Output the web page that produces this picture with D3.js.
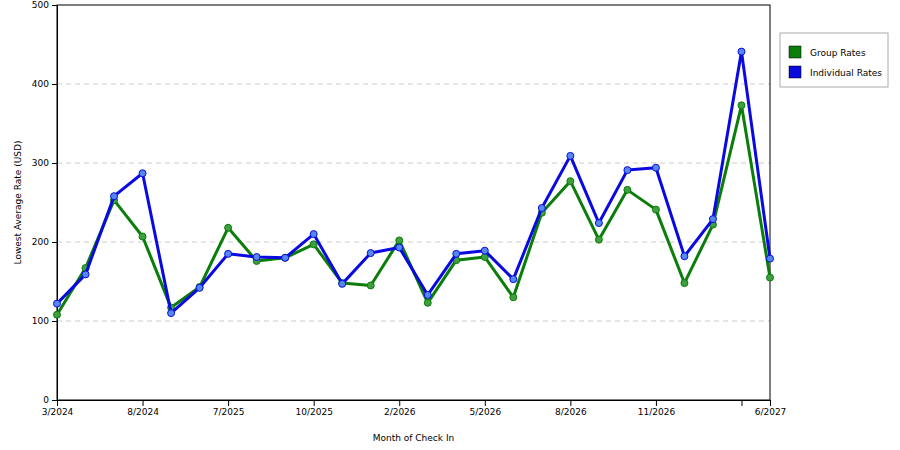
<!DOCTYPE html>
<html><head><meta charset="utf-8">
<script src="https://cdn.jsdelivr.net/npm/d3@7"></script>
<style>body{margin:0;background:#fff}text{font-family:"DejaVu Sans",sans-serif;font-size:9px;fill:#000}</style>
</head><body><svg id="c" width="900" height="450"></svg>
<script>
const months = ["3/2024","4/2024","5/2024","8/2024","9/2024","10/2024","7/2025","8/2025","9/2025","10/2025","11/2025","12/2025","2/2026","3/2026","4/2026","5/2026","6/2026","7/2026","8/2026","9/2026","10/2026","11/2026","12/2026","1/2027","2/2027","6/2027"];
const tickLabels = ["3/2024","","","8/2024","","","7/2025","","","10/2025","","","2/2026","","","5/2026","","","8/2026","","","11/2026","","","","6/2027"];
const tickIdx = [0,3,6,9,12,15,18,21,24,25];
const groupRates = [108,167,253,207,117,143,218,176,180,197,148,145,202,123,177,181,130,237,277,203,266,241,148,222,373,155];
const individualRates = [122,159,258,287,110,142,185,181,180,210,147,186,193,133,185,189,153,243,309,224,291,294,182,229,441,179];
const yTicks = [0,100,200,300,400,500];

const svg = d3.select("#c");
const L=57,R=770,T=5,B=400;
const x = d3.scalePoint().domain(d3.range(months.length)).range([L,R]);
const y = d3.scaleLinear().domain([0,500]).range([B,T]);

svg.append("g").selectAll("line").data(yTicks.filter(v=>v>0&&v<500)).join("line")
 .attr("x1",L).attr("x2",R).attr("y1",d=>y(d)).attr("y2",d=>y(d))
 .attr("stroke","#ccc").attr("stroke-dasharray","5,4");
svg.append("rect").attr("x",L).attr("y",T).attr("width",R-L).attr("height",B-T).attr("fill","none").attr("stroke","#000");

const ya = svg.append("g").attr("transform",`translate(${L},0)`).call(d3.axisLeft(y).tickValues(yTicks).tickSize(5).tickPadding(3));
const xa = svg.append("g").attr("transform",`translate(0,${B})`).call(d3.axisBottom(x).tickValues(tickIdx).tickFormat(i=>tickLabels[i]).tickSize(6).tickPadding(3));
[ya,xa].forEach(a=>{a.selectAll("text").style("font-family","DejaVu Sans").style("font-size","9px");a.select(".domain").attr("stroke","#000");});

svg.append("text").attr("x",(L+R)/2).attr("y",441).attr("text-anchor","middle").text("Month of Check In");
svg.append("text").attr("transform",`translate(21,${(T+B)/2}) rotate(-90)`).attr("text-anchor","middle").text("Lowest Average Rate (USD)");

const series=[{name:"Group Rates",data:groupRates,c:"#0a7d0a",m:"#4a9a3a",f:"#3f9f3f"},
 {name:"Individual Rates",data:individualRates,c:"#0a0ae0",m:"#3a6ae8",f:"#5588ee"}];
const line=d3.line().x((d,i)=>x(i)).y(d=>y(d));
series.forEach(s=>{
 svg.append("path").datum(s.data).attr("d",line).attr("fill","none").attr("stroke",s.c).attr("stroke-width",3).attr("stroke-linejoin","round");
 svg.append("g").selectAll("circle").data(s.data).join("circle").attr("cx",(d,i)=>x(i)).attr("cy",d=>y(d)).attr("r",3.5)
  .attr("fill",s.f).attr("stroke",s.c).attr("stroke-width",1);
});

const lg=svg.append("g");
lg.append("rect").attr("x",780).attr("y",33).attr("width",108).attr("height",54).attr("fill","#fff").attr("stroke","#aaa");
series.forEach((s,i)=>{
 lg.append("rect").attr("x",789).attr("y",46+i*20).attr("width",12).attr("height",12).attr("fill",s.c).attr("stroke","#000").attr("stroke-width",0.5);
 lg.append("text").attr("x",810).attr("y",56+i*20).text(s.name);
});
</script></body></html>
